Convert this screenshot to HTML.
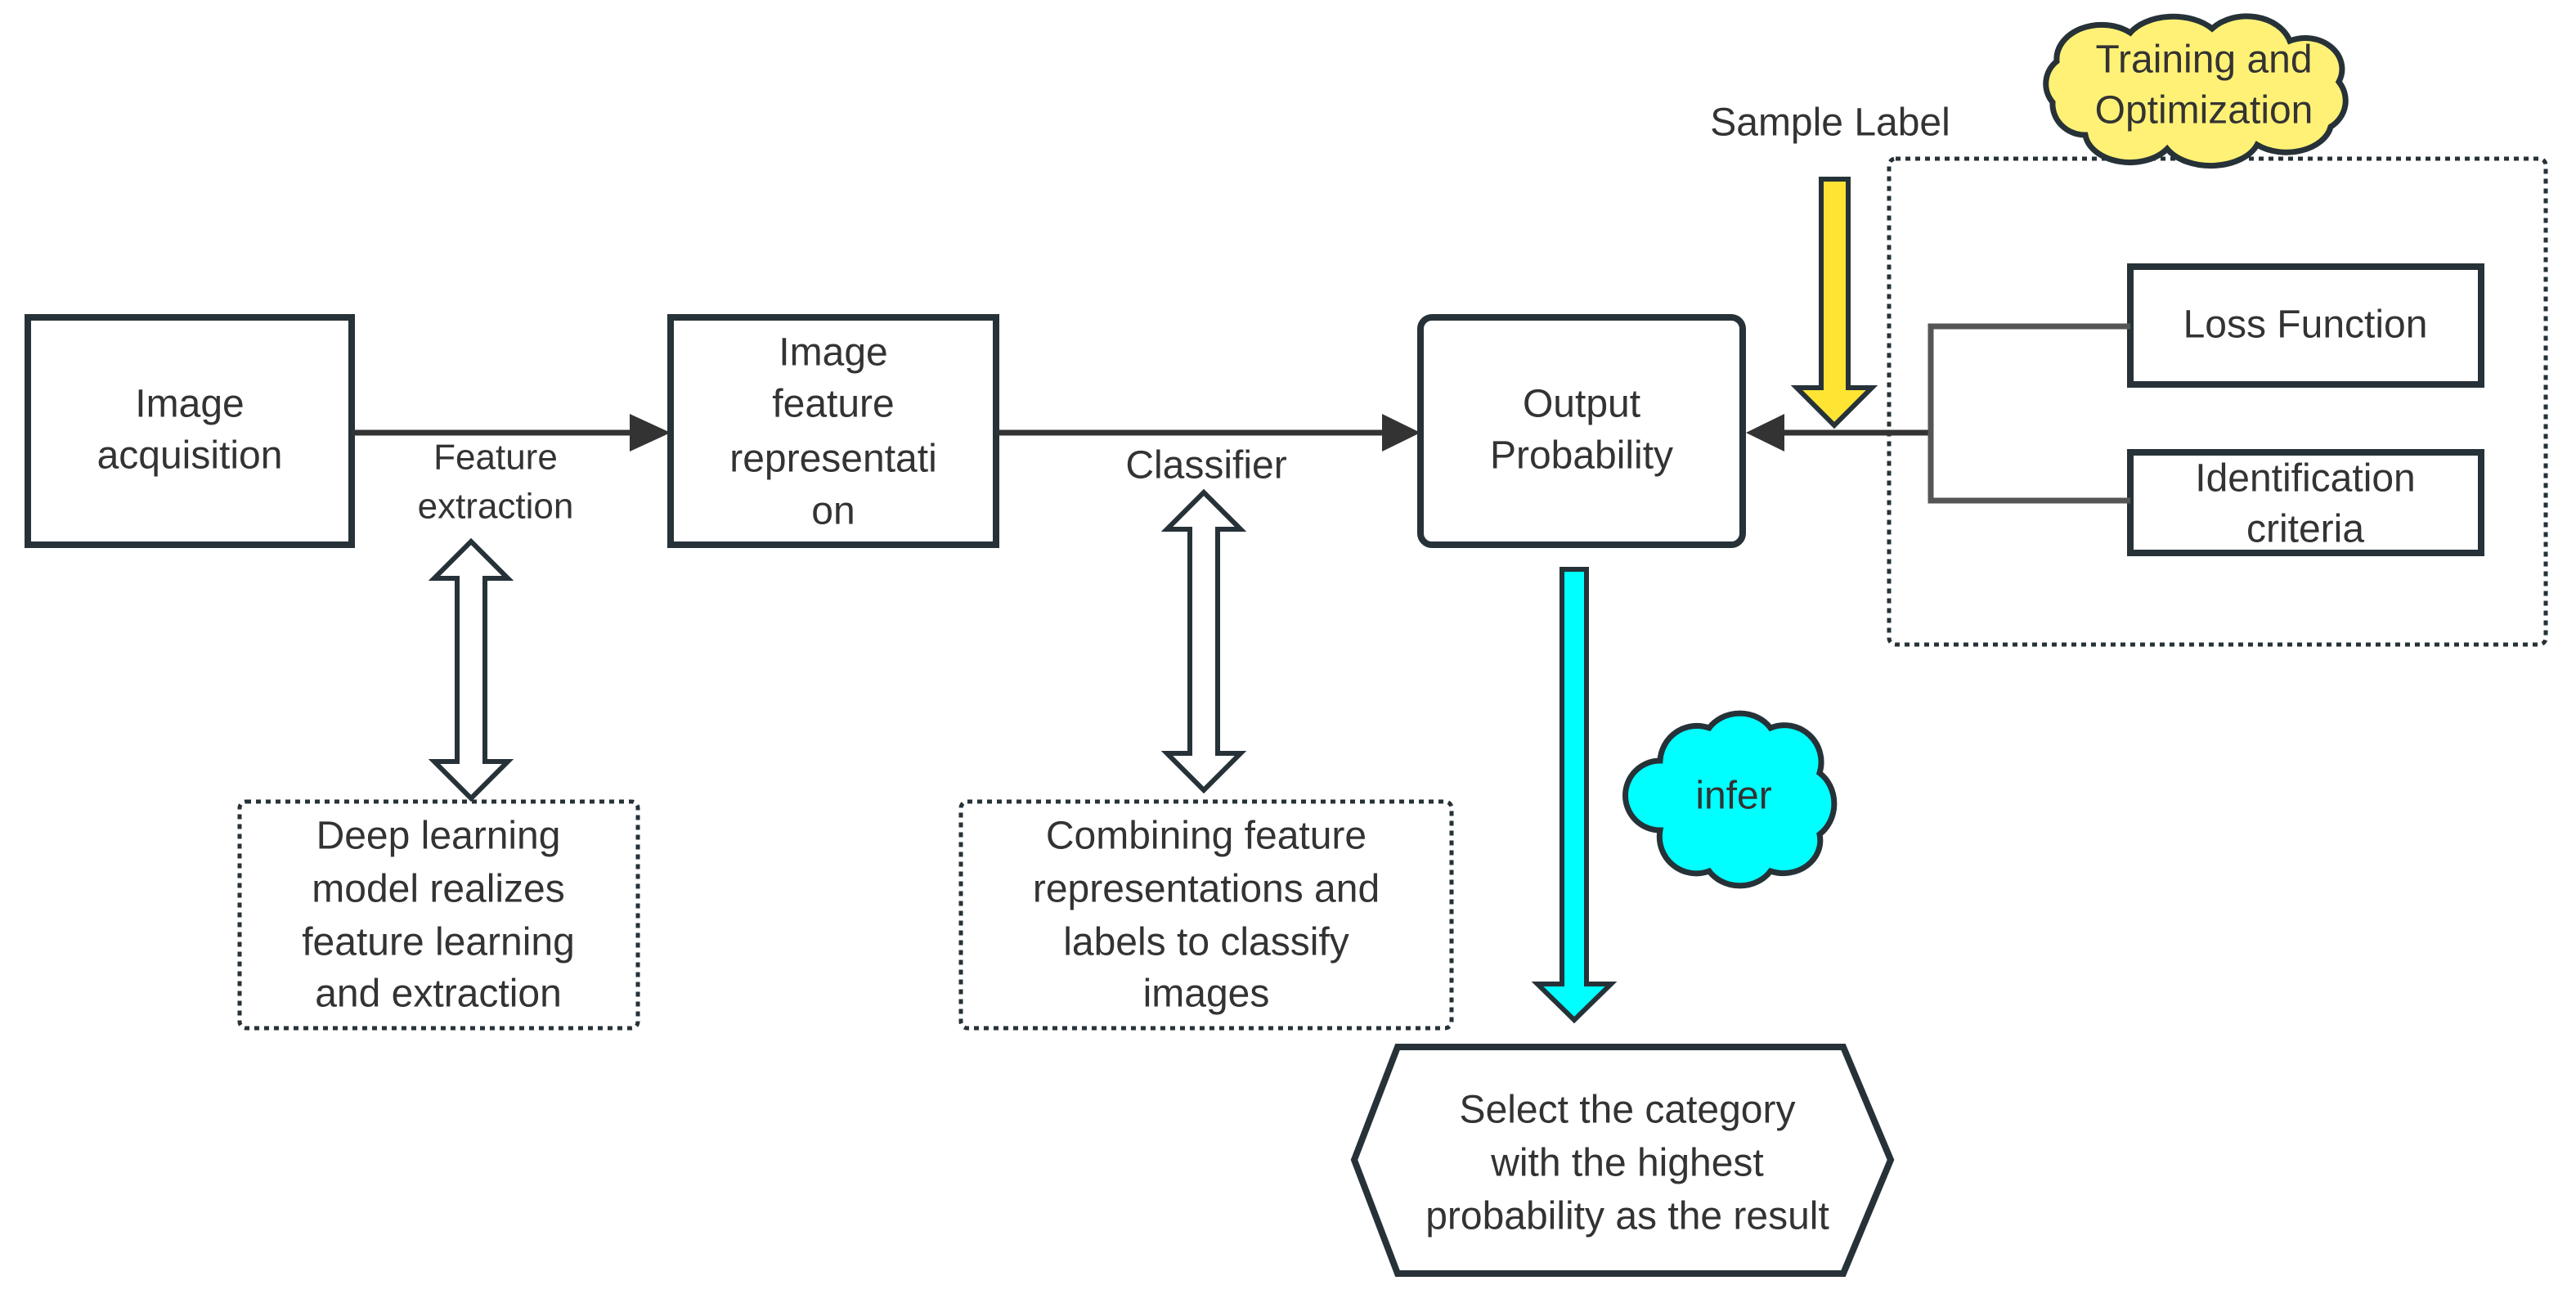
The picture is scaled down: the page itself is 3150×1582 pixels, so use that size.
<!DOCTYPE html>
<html><head><meta charset="utf-8"><style>
html,body{margin:0;padding:0;background:#fff;}
svg{display:block;}
text{font-family:"Liberation Sans",sans-serif;fill:#333;text-anchor:middle;dominant-baseline:middle;}
</style></head><body>
<svg width="3150" height="1582" viewBox="0 0 3150 1582" xmlns="http://www.w3.org/2000/svg">
<rect width="3150" height="1582" fill="#fff"/>
<g stroke="#263238" stroke-width="8" fill="#fff">
<rect x="34" y="388" width="396" height="278"/>
<rect x="820" y="388" width="398" height="278"/>
<rect x="1737" y="388" width="394" height="278" rx="14"/>
<rect x="2605" y="326" width="429" height="144"/>
<rect x="2605" y="553" width="429" height="123"/>
<polygon points="1709,1280 2254,1280 2312,1418 2254,1557 1709,1557 1656,1418"/>
</g>
<g stroke="#263238" stroke-width="5" fill="none" stroke-dasharray="6,6">
<rect x="2310" y="194" width="803" height="594" rx="8"/>
<rect x="293" y="980" width="487" height="277" rx="8"/>
<rect x="1175" y="980" width="600" height="277" rx="8"/>
</g>
<g stroke="#333" stroke-width="7" fill="none">
<line x1="430" y1="529" x2="775" y2="529"/>
<line x1="1218" y1="529" x2="1695" y2="529"/>
<line x1="2170" y1="529" x2="2361" y2="529"/>
<polyline points="2605,399 2361,399 2361,612 2605,612" stroke="#555"/>
</g>
<g fill="#333">
<polygon points="770,506 820,529 770,552"/>
<polygon points="1690,506 1737,529 1690,552"/>
<polygon points="2182,506 2135,529 2182,552"/>
</g>
<g stroke="#263238" stroke-width="6" fill="#fff">
<path d="M576,662 L621,707 L593,707 L593,931 L621,931 L576,976 L531,931 L559,931 L559,707 L531,707 Z"/>
<path d="M1472,602 L1517,647 L1489,647 L1489,921 L1517,921 L1472,966 L1427,921 L1455,921 L1455,647 L1427,647 Z"/>
</g>
<path d="M2227,219 L2260,219 L2260,474 L2289,474 L2243,520 L2197,474 L2227,474 Z" fill="#FFE433" stroke="#263238" stroke-width="6"/>
<path d="M1910,696 L1940,696 L1940,1203 L1970,1203 L1925,1247 L1880,1203 L1910,1203 Z" fill="#00FFFF" stroke="#263238" stroke-width="6"/>
<path d="M2515,75 a55,42 0 0 1 90,-35 a60,38 0 0 1 100,-5 a55,42 0 0 1 95,15 a45,38 0 0 1 60,50 a40,38 0 0 1 -10,55 a55,38 0 0 1 -90,22 a60,38 0 0 1 -110,5 a55,38 0 0 1 -100,-17 a40,38 0 0 1 -40,-40 a35,35 0 0 1 5,-50 Z" fill="#FFF176" stroke="#263238" stroke-width="7"/>
<path d="M2030,930 a45,45 0 0 1 60,-40 a45,40 0 0 1 75,0 a45,45 0 0 1 60,55 a40,45 0 0 1 0,75 a45,40 0 0 1 -60,45 a45,40 0 0 1 -75,0 a45,45 0 0 1 -60,-50 a40,40 0 0 1 0,-85 Z" fill="#00FFFF" stroke="#263238" stroke-width="7"/>
<g font-size="48">
<text x="232" y="497">Image</text>
<text x="232" y="560">acquisition</text>
<text x="1019" y="434">Image</text>
<text x="1019" y="497">feature</text>
<text x="1019" y="564">representati</text>
<text x="1019" y="628">on</text>
<text x="1934" y="497">Output</text>
<text x="1934" y="560">Probability</text>
<text x="2819" y="400">Loss Function</text>
<text x="2819" y="588">Identification</text>
<text x="2819" y="650">criteria</text>
<text x="2238" y="153">Sample Label</text>
<text x="2695" y="76">Training and</text>
<text x="2695" y="138">Optimization</text>
<text x="1475" y="572">Classifier</text>
<text x="2120" y="976">infer</text>
<text x="536" y="1025">Deep learning</text>
<text x="536" y="1090">model realizes</text>
<text x="536" y="1155">feature learning</text>
<text x="536" y="1218">and extraction</text>
<text x="1475" y="1025">Combining feature</text>
<text x="1475" y="1090">representations and</text>
<text x="1475" y="1155">labels to classify</text>
<text x="1475" y="1218">images</text>
<text x="1990" y="1360">Select the category</text>
<text x="1990" y="1425">with the highest</text>
<text x="1990" y="1490">probability as the result</text>
</g>
<g font-size="44">
<text x="606" y="562">Feature</text>
<text x="606" y="622">extraction</text>
</g>
</svg>
</body></html>
